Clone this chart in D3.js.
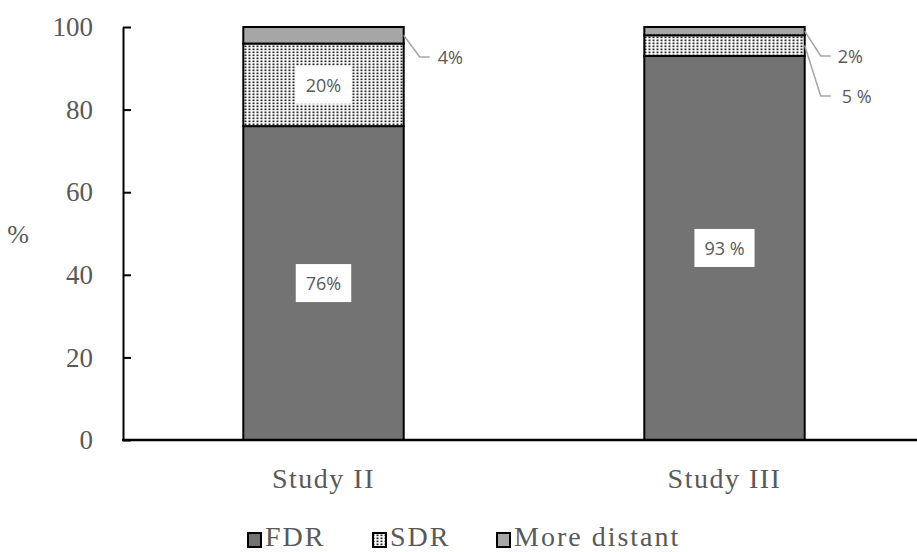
<!DOCTYPE html>
<html>
<head>
<meta charset="utf-8">
<script src="https://cdn.jsdelivr.net/npm/d3@7"></script>
<style>
  html, body { margin: 0; padding: 0; background: #fff; }
  svg { display: block; }
</style>
</head>
<body>
<svg id="chart" width="917" height="552"></svg>
<script>
// Relatedness of cases by study (stacked percentage bars)
const studies = ["Study II", "Study III"];
const seriesNames = ["FDR", "SDR", "More distant"];
const fdrValues = [76, 93];
const sdrValues = [20, 5];
const distantValues = [4, 2];
const labelTexts = {
  FDR: ["76%", "93 %"],
  SDR: ["20%", "5 %"],
  "More distant": ["4%", "2%"]
};
const yTicks = [0, 20, 40, 60, 80, 100];

const rows = studies.map((s, i) => ({
  study: s,
  FDR: fdrValues[i],
  SDR: sdrValues[i],
  "More distant": distantValues[i]
}));

const svg = d3.select("#chart");
const serif = "'Liberation Serif', 'DejaVu Serif', serif";
const sans = "'Open Sans', 'Noto Sans', sans-serif";
const textGray = "#595959";

// Dotted fill for the SDR series
const defs = svg.append("defs");
const pat = defs.append("pattern")
  .attr("id", "dots")
  .attr("patternUnits", "userSpaceOnUse")
  .attr("width", 4).attr("height", 3);
pat.append("rect").attr("width", 4).attr("height", 3).attr("fill", "#fff");
pat.append("rect").attr("x", 0.5).attr("y", 0.5).attr("width", 2).attr("height", 1.7).attr("fill", "#2a2a2a");

const fills = { FDR: "#737373", SDR: "url(#dots)", "More distant": "#a6a6a6" };

const x = d3.scaleBand()
  .domain(studies)
  .range([123, 925])
  .paddingInner(0.6)
  .paddingOuter(0.3);

const y = d3.scaleLinear().domain([0, 100]).range([440, 27]);

const stack = d3.stack().keys(seriesNames);
const layers = stack(rows);

// Bars
const g = svg.append("g");
layers.forEach(layer => {
  g.selectAll(null)
    .data(layer)
    .join("rect")
    .attr("x", d => x(d.data.study))
    .attr("width", x.bandwidth())
    .attr("y", d => y(d[1]))
    .attr("height", d => y(d[0]) - y(d[1]))
    .attr("fill", fills[layer.key])
    .attr("stroke", "#000")
    .attr("stroke-width", 2);
});

// Axes
const yAxis = d3.axisLeft(y).tickValues(yTicks).tickSizeInner(-8).tickSizeOuter(0).tickPadding(30);
const ya = svg.append("g").attr("transform", "translate(123,0)").call(yAxis);
ya.select(".domain").attr("stroke", "#000").attr("stroke-width", 2);
ya.selectAll(".tick line").attr("stroke", "#000").attr("stroke-width", 2);
ya.selectAll(".tick text")
  .attr("fill", textGray)
  .style("font-family", serif)
  .style("font-size", "27px");

svg.append("line")
  .attr("x1", 122).attr("x2", 917)
  .attr("y1", y(0)).attr("y2", y(0))
  .attr("stroke", "#000").attr("stroke-width", 2.5);

// Category labels
svg.selectAll(".cat")
  .data(studies)
  .join("text")
  .attr("class", "cat")
  .attr("x", d => x(d) + x.bandwidth() / 2)
  .attr("y", 488)
  .attr("text-anchor", "middle")
  .attr("fill", textGray)
  .style("font-family", serif)
  .style("font-size", "28px")
  .style("letter-spacing", "1.5px")
  .text(d => d);

// Y title
svg.append("text")
  .attr("x", 18).attr("y", 243)
  .attr("text-anchor", "middle")
  .attr("fill", textGray)
  .style("font-family", serif)
  .style("font-size", "26px")
  .text("%");

// Inside labels on white boxes
function boxedLabel(cx, cy, txt) {
  const t = svg.append("text")
    .attr("x", cx).attr("y", cy)
    .attr("text-anchor", "middle")
    .attr("dominant-baseline", "central")
    .attr("fill", textGray)
    .style("font-family", sans)
    .style("font-size", "18px")
    .text(txt);
  const bb = t.node().getBBox();
  svg.insert("rect", () => t.node())
    .attr("x", bb.x - 10).attr("y", cy - 19)
    .attr("width", bb.width + 20).attr("height", 38)
    .attr("fill", "#fff");
}

const mid = d => (d[0] + d[1]) / 2;

layers[0].forEach((d, i) => {
  boxedLabel(x(d.data.study) + x.bandwidth() / 2, y(mid(d)), labelTexts.FDR[i]);
});
// SDR label inside the first bar only
{
  const d = layers[1][0];
  boxedLabel(x(d.data.study) + x.bandwidth() / 2, y(mid(d)), labelTexts.SDR[0]);
}

// Outside labels with leader lines
function leader(x0, y0, ly, txt, tx) {
  svg.append("polyline")
    .attr("points", `${x0},${y0} ${x0 + 16},${ly} ${x0 + 26},${ly}`)
    .attr("fill", "none")
    .attr("stroke", "#a6a6a6")
    .attr("stroke-width", 1.5);
  svg.append("text")
    .attr("x", tx).attr("y", ly)
    .attr("dominant-baseline", "central")
    .attr("fill", textGray)
    .style("font-family", sans)
    .style("font-size", "18px")
    .text(txt);
}

const right0 = x(studies[0]) + x.bandwidth();
const right1 = x(studies[1]) + x.bandwidth();
leader(right0, y(mid(layers[2][0])), 57, labelTexts["More distant"][0], right0 + 34);
leader(right1, y(mid(layers[2][1])), 56, labelTexts["More distant"][1], right1 + 33);
leader(right1, y(mid(layers[1][1])), 96, labelTexts.SDR[1], right1 + 37);

// Legend
const legendItems = [
  { key: "FDR", x: 248 },
  { key: "SDR", x: 373 },
  { key: "More distant", x: 497 }
];
const lg = svg.append("g");
legendItems.forEach(it => {
  lg.append("rect")
    .attr("x", it.x).attr("y", 533)
    .attr("width", 13).attr("height", 14)
    .attr("fill", fills[it.key])
    .attr("stroke", "#000").attr("stroke-width", 2);
  lg.append("text")
    .attr("x", it.x + 17).attr("y", 546)
    .attr("fill", textGray)
    .style("font-family", serif)
    .style("font-size", "28px")
    .style("letter-spacing", "2px")
    .text(it.key);
});
</script>
</body>
</html>
